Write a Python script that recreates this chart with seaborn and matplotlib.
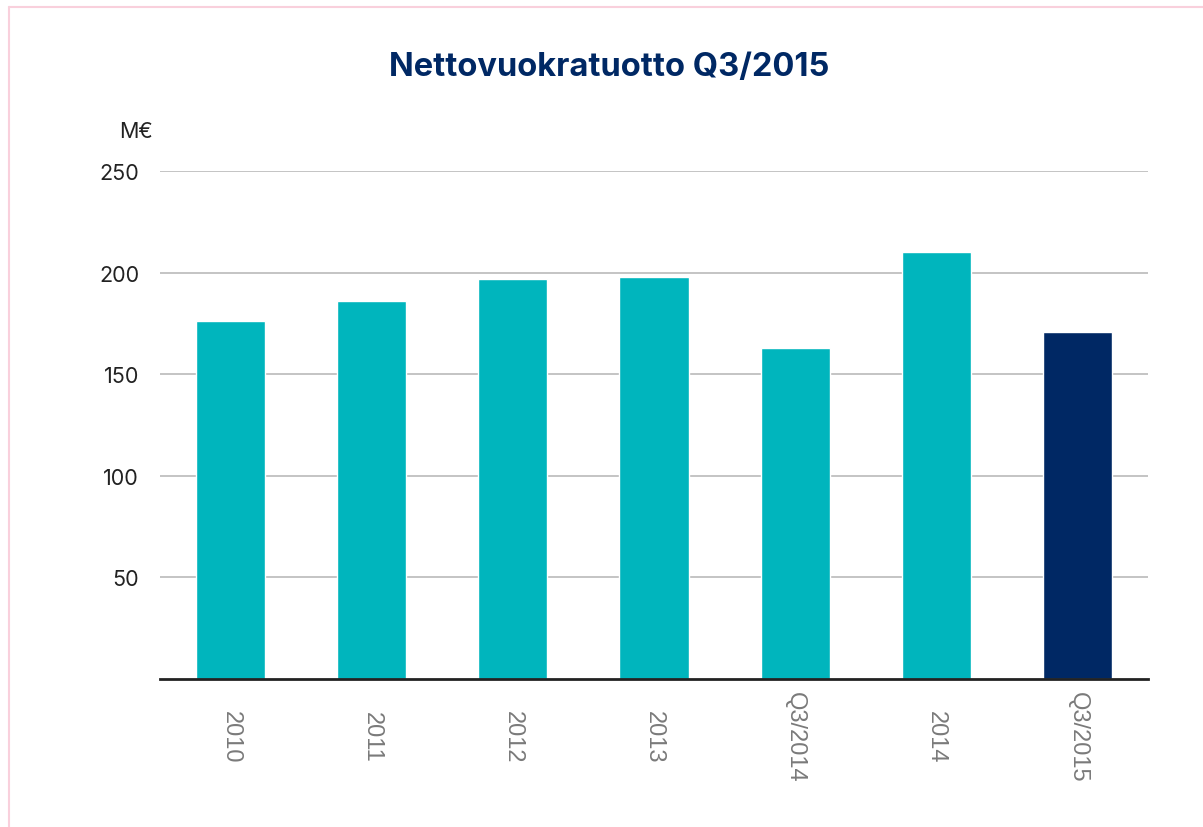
import matplotlib
matplotlib.use("Agg")
import matplotlib.pyplot as plt
import seaborn as sns
import pandas as pd
from matplotlib.lines import Line2D

# data
categories = ["2010", "2011", "2012", "2013", "Q3/2014", "2014", "Q3/2015"]
values = [176, 186, 197, 198, 163, 210, 171]
colors = ["#00b5bd"] * 6 + ["#002864"]
yticks = [50, 100, 150, 200, 250]

df = pd.DataFrame({"period": categories, "value": values})

sns.set_theme(style="white")
plt.rcParams["font.family"] = ["Inter", "DejaVu Sans"]

fig = plt.figure(figsize=(12.03, 8.28), dpi=100)
ax = fig.add_axes([160 / 1203, 148 / 828, 988 / 1203, 508 / 828])

sns.barplot(data=df, x="period", y="value", hue="period", palette=colors,
            legend=False, width=0.49, saturation=1, ax=ax)

ax.set_xlim(-0.5, 6.5)
ax.set_ylim(0, 250)
ax.set_yticks(yticks)
ax.set_yticklabels([str(t) for t in yticks], fontsize=15.5, color="#222222")
ax.yaxis.grid(True, color="#c4c4c4", linewidth=1.4)
ax.set_axisbelow(True)
ax.tick_params(axis="y", length=0, pad=15)
ax.tick_params(axis="x", length=0, pad=41)
for lbl in ax.get_xticklabels():
    lbl.set_rotation(-90)
    lbl.set_fontsize(17)
    lbl.set_color("#7a7a7a")
    lbl.set_family(["Liberation Sans", "DejaVu Sans"])
    lbl.set_va("center")
ax.set_xlabel("")
ax.set_ylabel("")
for side in ["top", "right", "left"]:
    ax.spines[side].set_visible(False)
ax.spines["bottom"].set_color("#222222")
ax.spines["bottom"].set_linewidth(2)

fig.text(136 / 1203, 1 - 132 / 828, "M€", fontsize=15.5, color="#222222",
         ha="center", va="center")
fig.text(609 / 1203, 1 - 68 / 828, "Nettovuokratuotto Q3/2015", fontsize=23.5,
         fontweight="bold", color="#002864", ha="center", va="center")

# thin pink frame at the top and left edges
fig.add_artist(Line2D([9 / 1203, 1], [1 - 8 / 828, 1 - 8 / 828],
                      color="#f9d0dc", linewidth=1.5, transform=fig.transFigure))
fig.add_artist(Line2D([9 / 1203, 9 / 1203], [0, 1 - 8 / 828],
                      color="#f9d0dc", linewidth=1.5, transform=fig.transFigure))

fig.savefig("out.png", dpi=100, facecolor="white")
